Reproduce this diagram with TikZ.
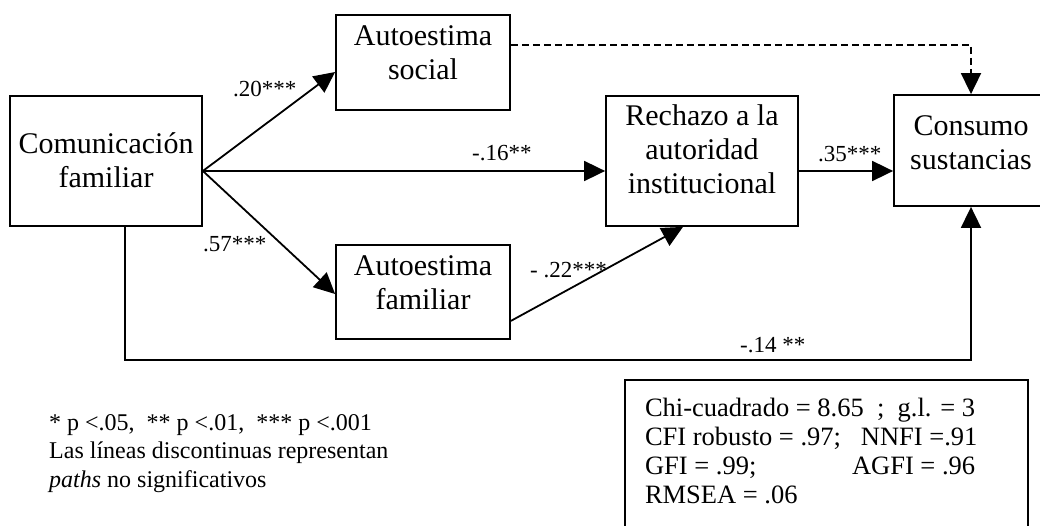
\documentclass[tikz,border=0pt]{standalone}
\usepackage{fontspec}
\setmainfont{Liberation Serif}
\usetikzlibrary{arrows.meta,calc}
\newcommand{\bxt}[4]{\parbox[c][#2][t]{#1}{\centering\vspace*{#3}\strut #4}}
\begin{document}
\begin{tikzpicture}[x=1pt,y=-1pt,
  box/.style={draw, line width=1.8pt, fill=white, inner sep=0pt, font=\fontsize{30}{34}\selectfont},
  arr/.style={line width=1.8pt, -{Triangle[length=21pt,width=20pt]}},
  lab/.style={anchor=base west, inner sep=0pt, font=\fontsize{23}{27}\selectfont},
  leg/.style={anchor=base west, inner sep=0pt, font=\fontsize{24}{28}\selectfont}]
\useasboundingbox (0,0) rectangle (1040,526);
% boxes
\node[box] (CF) at (106,161) {\bxt{192pt}{130pt}{34pt}{Comunicación\\familiar}};
\node[box] (AS) at (423,62.5) {\bxt{174pt}{95pt}{7pt}{Autoestima\\social}};
\node[box] (AF) at (423,292) {\bxt{174pt}{94pt}{7pt}{Autoestima\\familiar}};
\node[box] (Re) at (702,161) {\bxt{192pt}{130pt}{6pt}{Rechazo a la\\autoridad\\institucional}};
\node[box] (Co) at (971,150.5) {\bxt{154pt}{111pt}{17pt}{Consumo\\sustancias}};
% stats box (its lower side lies below the picture's edge)
\node[draw, line width=1.8pt, inner sep=0pt, font=\fontsize{26.5}{29}\selectfont] (St) at (826.5,490)
  {\parbox[c][220pt][t]{403pt}{\raggedright\leftskip=20pt\vspace*{16pt}\strut Chi-cuadrado = 8.65\ \ ;\ \ g.l. = 3\\
   CFI robusto = .97;\ \ \ NNFI =.91\\
   \makebox[207pt][l]{GFI = .99;}AGFI = .96\\
   RMSEA = .06}};
% connectors
\draw[arr] ($(CF.east)+(0,10)$) -- ($(AS.west)+(0,9.5)$);
\draw[arr] ($(CF.east)+(0,10)$) -- ($(Re.west)+(0,10)$);
\draw[arr] ($(CF.east)+(0,10)$) -- ($(AF.west)+(0,2)$);
\draw[arr] ($(Re.east)+(0,10)$) coordinate (r1) -- (r1 -| Co.west);
\draw[arr] ($(AF.south east)+(0,-19)$) -- ($(Re.south)+(-19,0)$);
\draw[arr, dash pattern=on 7pt off 4pt] ($(AS.east)+(0,-17.5)$) -| (Co.north);
\draw[arr] ($(CF.south)+(19,0)$) -- ++(0,133) -| (Co.south);
% labels
\node[lab] (l1) at (233,97) {.20***};
\node[lab] (l2) at (203,252) {.57***};
\node[lab] (l3) at (472,161) {-.16**};
\node[lab] (l4) at (818,162) {.35***};
\node[lab] (l5) at (530,278) {- .22***};
\node[lab] (l6) at (740,352) {-.14 **};
% legend
\node[leg] (g1) at (49,430) {* p <.05,\ \ ** p <.01,\ \ *** p <.001};
\node[leg] (g2) at (49,458) {Las líneas discontinuas representan};
\node[leg] (g3) at (49,487) {\textit{paths} no significativos};
\end{tikzpicture}
\end{document}
